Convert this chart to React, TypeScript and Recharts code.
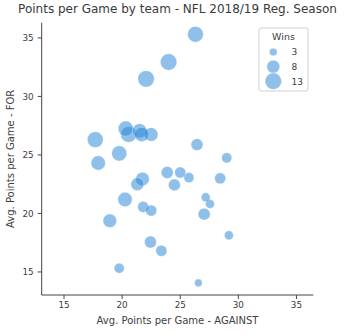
import React from 'react';
import { ScatterChart, Scatter, XAxis, YAxis, ZAxis } from 'recharts';

const teams = [
  'Chiefs', 'Rams', 'Saints', 'Chargers', 'Patriots', 'Colts', 'Steelers', 'Seahawks',
  'Bears', 'Ravens', 'Texans', 'Falcons', 'Buccaneers', 'Giants', 'Packers', 'Eagles',
  'Vikings', 'Browns', 'Panthers', 'Raiders', 'Broncos', 'Cowboys', 'Titans', 'Lions',
  'Dolphins', 'Jets', 'Bengals', '49ers', 'Jaguars', 'Bills', 'Redskins', 'Cardinals',
];
const pointsFor = [
  35.31, 32.94, 31.5, 26.75, 27.25, 27.06, 26.75, 26.75,
  26.31, 24.31, 25.13, 25.88, 24.75, 23.06, 23.5, 22.94,
  22.5, 22.44, 23.5, 18.13, 20.56, 21.19, 19.38, 20.25,
  19.94, 20.81, 23.0, 21.38, 15.31, 16.81, 17.56, 14.06,
];
const pointsAgainst = [
  26.31, 24.0, 22.06, 20.56, 20.31, 21.5, 22.5, 21.69,
  17.69, 17.94, 19.75, 26.44, 29.0, 25.75, 25.0, 21.75,
  21.31, 24.5, 23.88, 29.19, 21.81, 20.25, 18.94, 22.5,
  27.06, 27.56, 28.44, 27.19, 19.75, 23.38, 22.44, 26.56,
];
const wins = [
  12, 13, 13, 12, 11, 10, 9, 10,
  12, 10, 11, 7, 5, 5, 6, 9,
  8, 7, 7, 4, 6, 10, 9, 6,
  7, 4, 6, 4, 5, 6, 7, 3,
];
const xTicks = [15, 20, 25, 30, 35];
const yTicks = [15, 20, 25, 30, 35];
const legendWins = [3, 8, 13];

const data = teams.map((team, i) => ({
  team,
  against: pointsAgainst[i],
  pf: pointsFor[i],
  wins: wins[i],
}));

const FONT = '"DejaVu Sans", sans-serif';
const TEXT = '#404040';
const AXIS = '#444444';
const FILL = 'rgba(31,130,214,0.5)';
const EDGE = 'rgba(255,255,255,0.45)';
const Z_DOMAIN: [number, number] = [3, 13];
const Z_RANGE: [number, number] = [46, 212];

const radiusFor = (w: number) => {
  const area = Z_RANGE[0] + ((w - Z_DOMAIN[0]) / (Z_DOMAIN[1] - Z_DOMAIN[0])) * (Z_RANGE[1] - Z_RANGE[0]);
  return Math.sqrt(area / Math.PI);
};

const WinsLegend = () => (
  <svg
    width={52}
    height={66}
    style={{ position: 'absolute', left: 258, top: 27, overflow: 'visible' }}
  >
    <rect x={1} y={1} width={49} height={63} rx={2} ry={2} fill="rgba(255,255,255,0.8)" stroke="#d0d0d0" strokeWidth={1} />
    <text x={25.5} y={12.5} textAnchor="middle" fontFamily={FONT} fontSize={9.5} fill={TEXT}>Wins</text>
    {legendWins.map((w, i) => (
      <g key={w}>
        <circle cx={15.3} cy={25 + i * 14.6} r={radiusFor(w)} fill={FILL} stroke={EDGE} strokeWidth={0.6} />
        <text x={33.5} y={28.3 + i * 14.6} fontFamily={FONT} fontSize={9} fill={TEXT}>{w}</text>
      </g>
    ))}
  </svg>
);

export default function App() {
  return (
    <div style={{ position: 'absolute', left: 0, top: 0, width: 344, height: 333, background: '#fff' }}>
      <div
        style={{
          position: 'absolute', left: 0, top: 2, width: 355, textAlign: 'center',
          fontFamily: FONT, fontSize: 12, color: '#3a3a3a', whiteSpace: 'nowrap', lineHeight: '14px',
        }}
      >
        Points per Game by team - NFL 2018/19 Reg. Season
      </div>
      <ScatterChart
        width={344}
        height={333}
        margin={{ top: 22.7, right: 30.7, bottom: 0, left: 0 }}
      >
        <XAxis
          type="number"
          dataKey="against"
          domain={[13.08, 36.45]}
          ticks={xTicks}
          allowDataOverflow
          height={38}
          tickSize={4}
          tickMargin={3}
          stroke={AXIS}
          tick={{ fill: TEXT, fontSize: 8.8, fontFamily: FONT }}
          label={(props: any) => {
            const vb = props.viewBox;
            return (
              <text x={vb.x + vb.width / 2} y={324} textAnchor="middle" fontFamily={FONT} fontSize={10} fill={TEXT}>
                Avg. Points per Game - AGAINST
              </text>
            );
          }}
        />
        <YAxis
          type="number"
          dataKey="pf"
          domain={[13.03, 36.3]}
          ticks={yTicks}
          allowDataOverflow
          width={41.7}
          tickSize={4}
          tickMargin={4}
          stroke={AXIS}
          tick={{ fill: TEXT, fontSize: 8.8, fontFamily: FONT }}
          label={(props: any) => {
            const vb = props.viewBox;
            const cy = vb.y + vb.height / 2;
            return (
              <text x={11.5} y={cy} textAnchor="middle" dominantBaseline="middle" transform={`rotate(-90, 11.5, ${cy})`} fontFamily={FONT} fontSize={10} fill={TEXT}>
                Avg. Points per Game - FOR
              </text>
            );
          }}
        />
        <ZAxis type="number" dataKey="wins" domain={Z_DOMAIN} range={Z_RANGE} />
        <Scatter data={data} fill={FILL} stroke={EDGE} strokeWidth={0.6} isAnimationActive={false} />
      </ScatterChart>
      <WinsLegend />
    </div>
  );
}
